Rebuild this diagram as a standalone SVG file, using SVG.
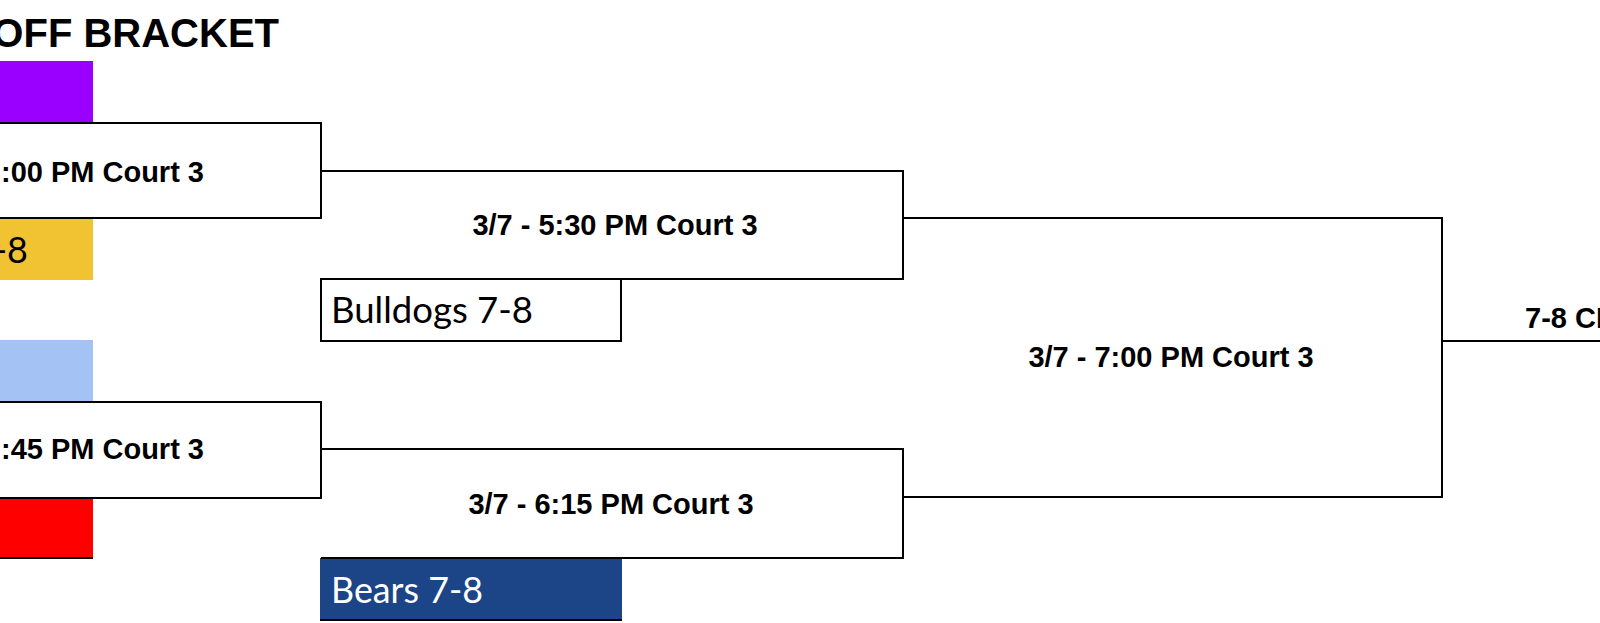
<svg xmlns="http://www.w3.org/2000/svg" width="1600" height="623" viewBox="0 0 1600 623">
<style>
.ln{fill:none;stroke:#000;stroke-width:2}
.lbl{font-family:"Liberation Sans",Arial,sans-serif;font-weight:bold;font-size:29px;fill:#000}
.team{font-family:Lato,"Open Sans",sans-serif;font-size:36px}
.title{font-family:"Liberation Sans",Arial,sans-serif;font-weight:bold;font-size:40px;fill:#000}
</style>
<rect x="0" y="0" width="1600" height="623" fill="#fff"/>
<text class="title" x="279" y="47" text-anchor="end">OFF BRACKET</text>

<g id="seed-purple"><rect x="0" y="61" width="93" height="61" fill="#9900ff"/></g>
<g id="seed-gold"><rect x="0" y="218" width="93" height="62" fill="#f1c232"/><text class="team" x="28" y="263" text-anchor="end" fill="#000">-8</text></g>
<g id="seed-lightblue"><rect x="0" y="340" width="93" height="62" fill="#a4c2f4"/></g>
<g id="seed-red"><rect x="0" y="498" width="93" height="60" fill="#ff0000"/><line class="ln" x1="0" y1="558" x2="93" y2="558"/></g>

<g id="game1"><path class="ln" d="M-5,123 H321 V218 H-5"/><text class="lbl" x="204" y="182" text-anchor="end">:00 PM Court 3</text></g>
<g id="game2"><path class="ln" d="M-5,402 H321 V498 H-5"/><text class="lbl" x="204" y="459" text-anchor="end">:45 PM Court 3</text></g>

<g id="game3"><text class="lbl" x="615" y="235" text-anchor="middle">3/7 - 5:30 PM Court 3</text></g>
<g id="game4"><text class="lbl" x="611" y="514" text-anchor="middle">3/7 - 6:15 PM Court 3</text></g>
<g id="game5"><text class="lbl" x="1171" y="367" text-anchor="middle">3/7 - 7:00 PM Court 3</text></g>
<g id="final"><text class="lbl" x="1525" y="328">7-8 CH</text></g>

<g id="bulldogs"><rect class="ln" x="321" y="279" width="300" height="62" fill="#fff"/><text class="team" x="331" y="323" fill="#000" textLength="202" lengthAdjust="spacingAndGlyphs">Bulldogs 7-8</text></g>
<g id="bears"><rect x="320" y="558" width="302" height="62" fill="#1c4587"/><line class="ln" x1="320" y1="620" x2="622" y2="620"/><text class="team" x="331" y="603" fill="#fff" textLength="152" lengthAdjust="spacingAndGlyphs">Bears 7-8</text></g>

<g id="connectors">
<path class="ln" d="M321,171 H903 V279 H321"/>
<path class="ln" d="M321,449 H903 V558 H321"/>
<path class="ln" d="M903,218 H1442 V497 H903"/>
<path class="ln" d="M1442,341 H1605"/>
</g>
</svg>
